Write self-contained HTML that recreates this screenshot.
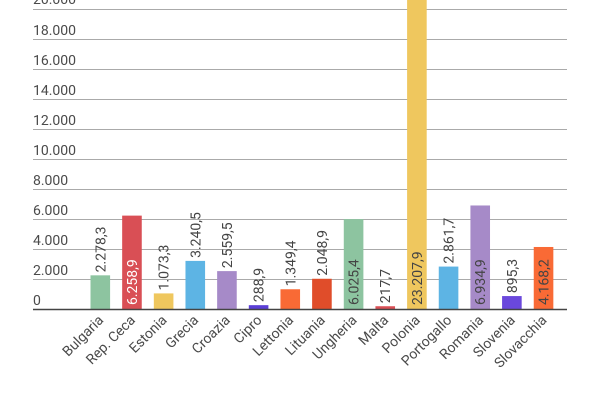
<!DOCTYPE html><html><head><style>body{margin:0;background:#fff}</style></head><body>
<svg width="600" height="400" xmlns="http://www.w3.org/2000/svg" font-family="Roboto, 'Liberation Sans', sans-serif">
<g stroke="#aaa" stroke-width="1">
<line x1="33" y1="9.5" x2="567" y2="9.5"/><line x1="33" y1="39.5" x2="567" y2="39.5"/><line x1="33" y1="69.5" x2="567" y2="69.5"/><line x1="33" y1="99.5" x2="567" y2="99.5"/><line x1="33" y1="129.5" x2="567" y2="129.5"/><line x1="33" y1="159.5" x2="567" y2="159.5"/><line x1="33" y1="189.5" x2="567" y2="189.5"/><line x1="33" y1="219.5" x2="567" y2="219.5"/><line x1="33" y1="249.5" x2="567" y2="249.5"/><line x1="33" y1="279.5" x2="567" y2="279.5"/>
</g>
<g font-size="14" fill="#4a4a4a">
<text x="33" y="4">20.000</text><text x="33" y="35">18.000</text><text x="33" y="65">16.000</text><text x="33" y="95">14.000</text><text x="33" y="125">12.000</text><text x="33" y="155">10.000</text><text x="33" y="185">8.000</text><text x="33" y="215">6.000</text><text x="33" y="245">4.000</text><text x="33" y="275">2.000</text><text x="33" y="305">0</text>
</g>
<g id="bars"></g>
<line x1="33" y1="309.5" x2="567" y2="309.5" stroke="#444" stroke-width="1.5"/>
<g id="labels" font-size="14"></g>
<script>
var d=[["Bulgaria",2278.3,"2.278,3","#8dc4a0"],["Rep. Ceca",6258.9,"6.258,9","#d94f55"],["Estonia",1073.3,"1.073,3","#efc75e"],["Grecia",3240.5,"3.240,5","#5db4e4"],["Croazia",2559.5,"2.559,5","#a68ac8"],["Cipro",288.9,"288,9","#5b3fd6"],["Lettonia",1349.4,"1.349,4","#f96a35"],["Lituania",2048.9,"2.048,9","#e04d2a"],["Ungheria",6025.4,"6.025,4","#8dc4a0"],["Malta",217.7,"217,7","#d94f55"],["Polonia",23207.9,"23.207,9","#efc75e"],["Portogallo",2861.7,"2.861,7","#5db4e4"],["Romania",6934.9,"6.934,9","#a68ac8"],["Slovenia",895.3,"895,3","#6a48dc"],["Slovacchia",4168.2,"4.168,2","#f96a35"]];
var ns="http://www.w3.org/2000/svg",b=document.getElementById("bars"),l=document.getElementById("labels");
function el(t,a,p,tx){var e=document.createElementNS(ns,t);for(var k in a)e.setAttribute(k,a[k]);if(tx)e.textContent=tx;p.appendChild(e);return e;}
d.forEach(function(r,i){var c=100.3+i*31.66,h=r[1]*0.015,y=309.5-h;
el("rect",{x:c-9.8,y:Math.max(y,0),width:19.6,height:309.5-Math.max(y,0),fill:r[3]},b);
var inside=r[1]>4000;
if(inside){el("text",{x:0,y:0,transform:"translate("+(c+5)+",305) rotate(-90)",fill:i==1?"#fff":"#444"},l,r[2]);}
else{el("text",{x:0,y:0,transform:"translate("+(c+5)+","+(y-3)+") rotate(-90)",fill:"#444"},l,r[2]);}
el("text",{x:0,y:0,"text-anchor":"end",transform:"translate("+(c+4)+",321) rotate(-45)",fill:"#4a4a4a"},l,r[0]);
});
</script>
</svg></body></html>
